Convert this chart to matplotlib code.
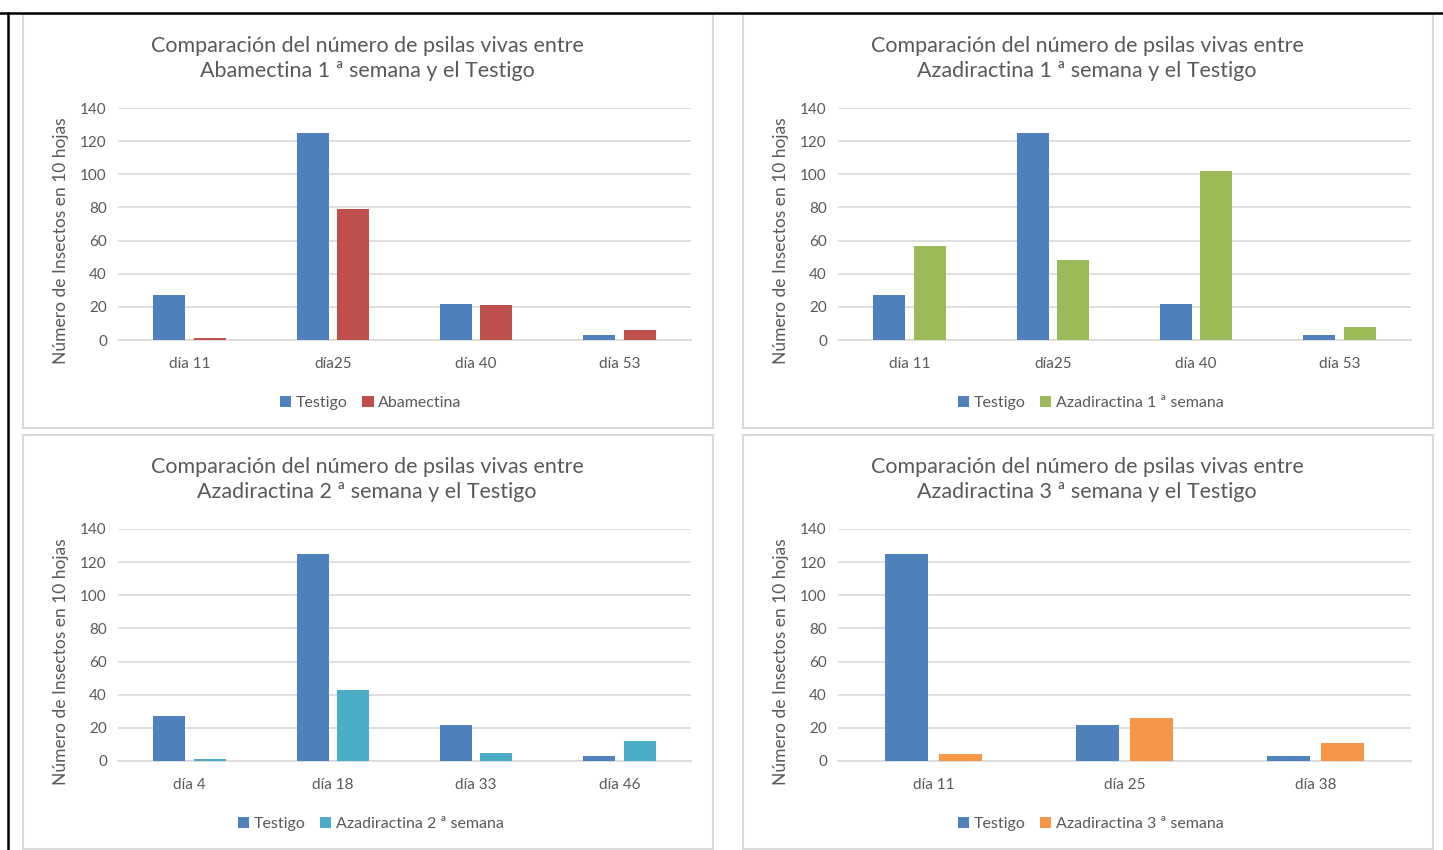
# Cuatro gráficos de barras: psilas vivas, testigo vs. tratamientos
import numpy as np
import matplotlib.pyplot as plt
from matplotlib.patches import Rectangle
from matplotlib.lines import Line2D

plt.rcParams['font.family'] = ['Lato', 'DejaVu Sans']

# datos
dias_aba = ['día 11', 'día25', 'día 40', 'día 53']
testigo_aba = [27, 125, 22, 3]
abamectina = [1, 79, 21, 6]

dias_aza1 = ['día 11', 'día25', 'día 40', 'día 53']
testigo_aza1 = [27, 125, 22, 3]
aza1 = [57, 48, 102, 8]

dias_aza2 = ['día 4', 'día 18', 'día 33', 'día 46']
testigo_aza2 = [27, 125, 22, 3]
aza2 = [1, 43, 5, 12]

dias_aza3 = ['día 11', 'día 25', 'día 38']
testigo_aza3 = [125, 22, 3]
aza3 = [4, 26, 11]

W, H = 1443, 850
fig = plt.figure(figsize=(W / 100, H / 100), dpi=100)

gris_txt = '#595959'
gris_lin = '#D9D9D9'

# marco negro (arriba e izquierda)
fig.add_artist(Line2D([0, 1], [1 - 12.5 / H, 1 - 12.5 / H], color='black', lw=1.8, transform=fig.transFigure))
fig.add_artist(Line2D([8 / W, 8 / W], [0, 1 - 12.5 / H], color='black', lw=1.8, transform=fig.transFigure))

paneles = [
    # (x0 caja, y0 caja arriba, categorias, testigo, tratamiento, nombre, color, titulo2)
    (23, 14, dias_aba, testigo_aba, abamectina, 'Abamectina', '#C0504D', 'Abamectina 1 ª semana y el Testigo'),
    (743, 14, dias_aza1, testigo_aza1, aza1, 'Azadiractina 1 ª semana', '#9BBB59', 'Azadiractina 1 ª semana y el Testigo'),
    (23, 435, dias_aza2, testigo_aza2, aza2, 'Azadiractina 2 ª semana', '#4BACC6', 'Azadiractina 2 ª semana y el Testigo'),
    (743, 435, dias_aza3, testigo_aza3, aza3, 'Azadiractina 3 ª semana', '#F79646', 'Azadiractina 3 ª semana y el Testigo'),
]

for bx, by, cats, test, trat, nombre, col, tit2 in paneles:
    bw, bh = 690, 414
    # caja del gráfico
    fig.add_artist(Rectangle((bx / W, 1 - (by + bh) / H), bw / W, bh / H, transform=fig.transFigure,
                             facecolor='none', edgecolor=gris_lin, lw=1.5))

    # ejes
    ax_l = bx + 95
    ax_t = by + 94
    ax = fig.add_axes([ax_l / W, 1 - (ax_t + 232) / H, 573 / W, 232 / H])
    x = np.arange(len(cats))
    ax.bar(x - 0.142, test, width=0.223, color='#4F81BD', label='Testigo', zorder=3)
    ax.bar(x + 0.142, trat, width=0.223, color=col, label=nombre, zorder=3)
    ax.set_xlim(-0.5, len(cats) - 0.5)
    ax.set_ylim(0, 140)
    ax.set_yticks(range(0, 141, 20))
    ax.set_xticks(x)
    ax.set_xticklabels(cats)
    ax.grid(axis='y', color=gris_lin, lw=1.2, zorder=0)
    for s in ['top', 'right', 'left']:
        ax.spines[s].set_visible(False)
    ax.spines['bottom'].set_color(gris_lin)
    ax.spines['bottom'].set_linewidth(1.2)
    ax.tick_params(axis='both', length=0, labelsize=11, colors=gris_txt, pad=8)
    ax.tick_params(axis='x', pad=12)
    ax.set_ylabel('Número de Insectos en 10 hojas', fontsize=12.5, color=gris_txt)
    ax.yaxis.set_label_coords(-0.085, 0.43)

    # título
    cx = bx + bw / 2 - 1
    fig.text(cx / W, 1 - (by + 44.5) / H,
             'Comparación del número de psilas vivas entre\n' + tit2,
             ha='center', va='center', fontsize=15.5, color=gris_txt, linespacing=1.36)

    # leyenda centrada en la caja
    ax.legend(loc='center', bbox_to_anchor=((cx - ax_l + 4) / 573, -0.272), ncol=2, frameon=False,
              fontsize=11.5, labelcolor=gris_txt, handlelength=0.7, handleheight=0.7,
              handletextpad=0.3, columnspacing=0.9)

fig.savefig('out.png', dpi=100)
